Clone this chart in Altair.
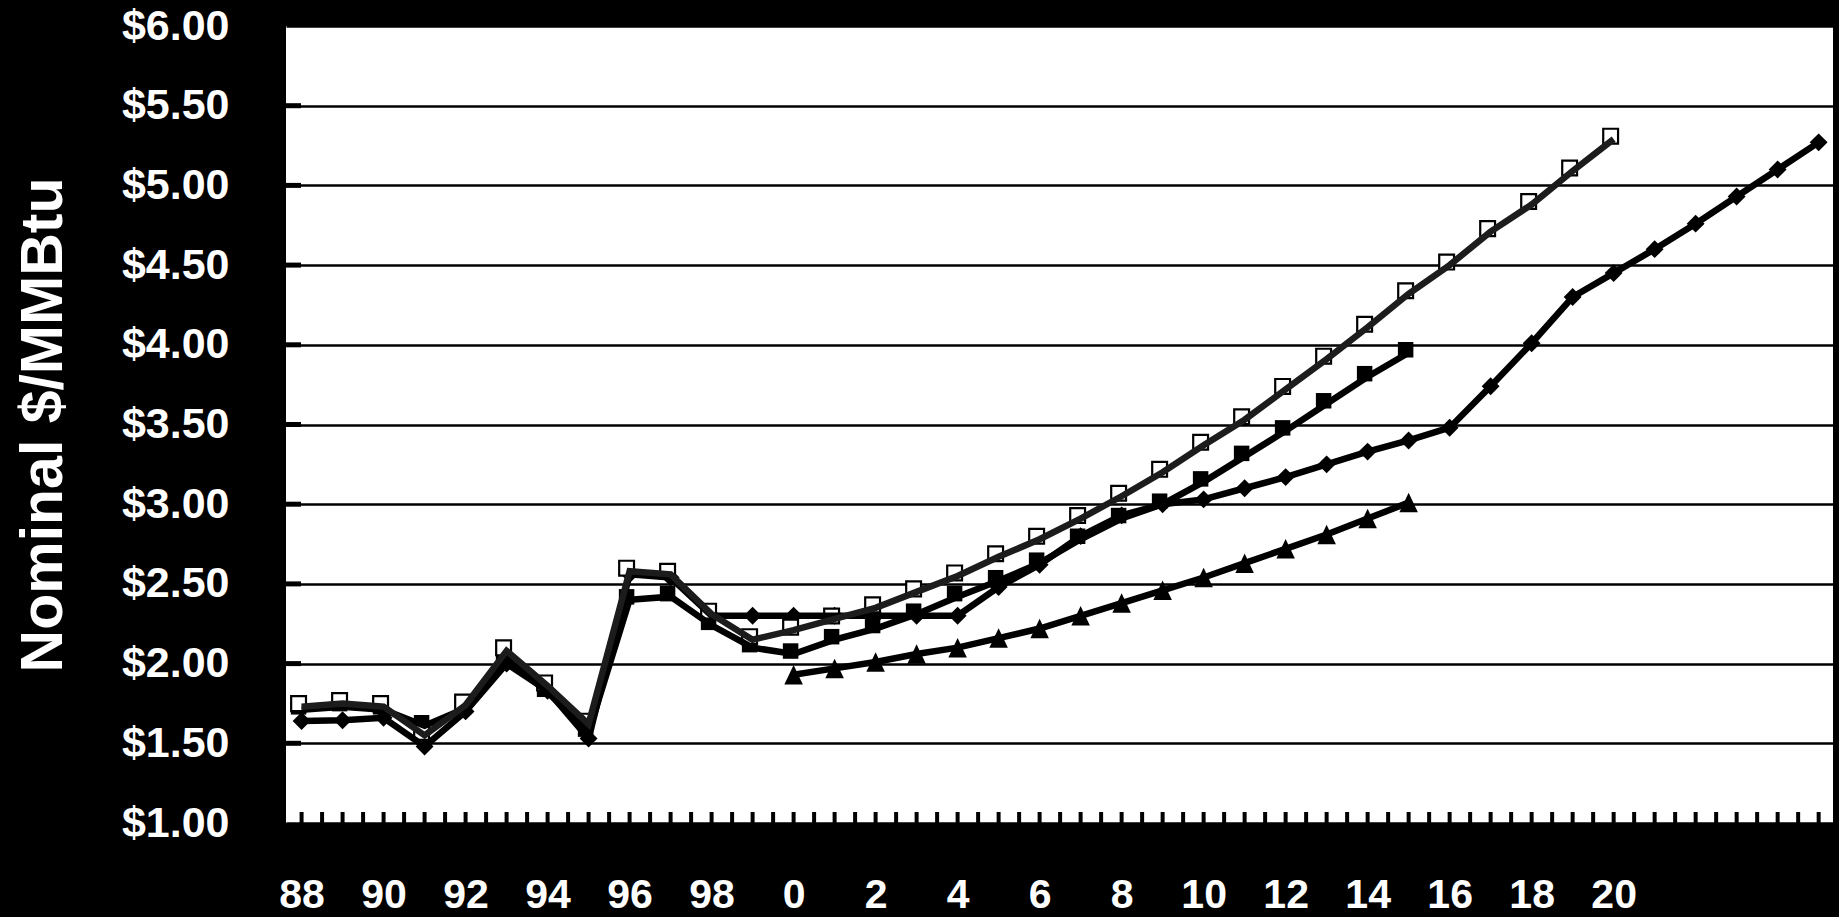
import altair as alt
import pandas as pd

# Years on the horizontal axis (1988-2025)
years = list(range(1988, 2026))

# Nominal $/MMBtu by year for each case; None where a case has no value
hollow_square_case = [1.73, 1.75, 1.73, 1.55, 1.74, 2.08, 1.86, 1.62, 2.58, 2.56, 2.31, 2.15,
                      2.21, 2.28, 2.35, 2.45, 2.55, 2.67, 2.78, 2.91, 3.05, 3.20, 3.37, 3.53,
                      3.72, 3.91, 4.11, 4.32, 4.50, 4.71, 4.88, 5.09, 5.29,
                      None, None, None, None, None]
filled_square_case = [1.71, 1.73, 1.71, 1.61, 1.72, 2.03, 1.82, 1.57, 2.40, 2.42, 2.24, 2.10,
                      2.06, 2.15, 2.22, 2.31, 2.42, 2.52, 2.63, 2.78, 2.91, 3.00, 3.14, 3.30,
                      3.46, 3.63, 3.80, 3.95,
                      None, None, None, None, None, None, None, None, None, None]
diamond_case = [1.64, 1.645, 1.66, 1.48, 1.70, 2.00, 1.83, 1.53, 2.56, 2.54, 2.30, 2.30,
                2.30, 2.30, 2.30, 2.30, 2.30, 2.48, 2.62, 2.80, 2.93, 3.00, 3.03, 3.10,
                3.17, 3.25, 3.33, 3.40, 3.48, 3.74, 4.01, 4.30, 4.45, 4.60, 4.76, 4.93,
                5.10, 5.27]
triangle_case = [None] * 12 + [1.93, 1.97, 2.01, 2.06, 2.10, 2.16, 2.22, 2.30, 2.38, 2.46,
                               2.54, 2.63, 2.72, 2.81, 2.91, 3.01] + [None] * 10

# Axis labels and tick positions
label_years = list(range(1988, 2021, 2))
price_ticks = [1.0, 1.5, 2.0, 2.5, 3.0, 3.5, 4.0, 4.5, 5.0, 5.5, 6.0]
inner_price_ticks = [1.5, 2.0, 2.5, 3.0, 3.5, 4.0, 4.5, 5.0, 5.5]
half_year_ticks = [1988 + 0.5 * i for i in range(75)]

PLOT_W, PLOT_H = 1547, 797
FONT = "Liberation Sans"
LINE_W = 6.5


def frame(values):
    df = pd.DataFrame({"year": years, "price": values})
    return df.dropna()


x_scale = alt.Scale(domain=[1987.62, 2025.35], nice=False, zero=False)
y_scale = alt.Scale(domain=[1.0, 6.0], nice=False, zero=False)

x_axis = alt.Axis(
    values=label_years,
    labelExpr="'' + (datum.value % 100)",
    grid=False, ticks=False, tickSize=0, domain=False,
    labelColor="white", labelFont=FONT, labelFontSize=41, labelFontWeight="bold",
    labelPadding=93, labelBaseline="bottom", labelFlush=False, labelOverlap=False,
    title=None,
)
y_axis = alt.Axis(
    values=price_ticks, format="$.2f",
    grid=True, gridColor="black", gridWidth=2.5, gridOpacity=1,
    ticks=False, tickSize=0, domain=False,
    labelColor="white", labelFont=FONT, labelFontSize=43, labelFontWeight="bold",
    labelPadding=57, labelOverlap=False, labelFlush=False,
    title="Nominal $/MMBtu", titleColor="white", titleFont=FONT,
    titleFontSize=59, titleFontWeight="bold", titleAngle=270,
    titleX=-225, titleY=PLOT_H / 2, titleAlign="center", titleBaseline="alphabetic",
)

X = alt.X("year:Q", scale=x_scale, axis=x_axis)
Y = alt.Y("price:Q", scale=y_scale, axis=y_axis)


def base(values):
    return alt.Chart(frame(values)).encode(x=X, y=Y)


# markers
filled_pts = base(filled_square_case).mark_square(
    color="black", size=240, opacity=1, xOffset=-3, yOffset=-3)
diamond_pts = base(diamond_case).mark_point(
    shape="diamond", filled=True, color="black", size=320, opacity=1)
triangle_pts = base(triangle_case).mark_point(
    shape="M0,-1L-0.95,1L0.95,1Z", filled=True, color="black", size=380, opacity=1)
hollow_pts = base(hollow_square_case).mark_square(
    fill="white", stroke="black", strokeWidth=2.2, size=220, opacity=1,
    fillOpacity=1, xOffset=-3, yOffset=-3)

# lines
diamond_line = base(diamond_case).mark_line(color="black", strokeWidth=LINE_W)
triangle_line = base(triangle_case).mark_line(color="black", strokeWidth=LINE_W)
filled_line = base(filled_square_case).mark_line(color="black", strokeWidth=LINE_W)
hollow_line = base(hollow_square_case).mark_line(color="#1c1c1c", strokeWidth=LINE_W)

# short inward ticks along the bottom edge and on the left end of each gridline
bottom_ticks = alt.Chart(pd.DataFrame({"year": half_year_ticks})).mark_tick(
    color="black", orient="vertical", size=11, thickness=4, opacity=1
).encode(x=X, y=alt.value(PLOT_H - 5.5))

left_ticks = alt.Chart(pd.DataFrame({"price": inner_price_ticks})).mark_tick(
    color="black", orient="horizontal", size=15, thickness=5, opacity=1
).encode(x=alt.value(7.5), y=Y)

chart = alt.layer(
    bottom_ticks, left_ticks,
    filled_pts, diamond_pts, triangle_pts, hollow_pts,
    diamond_line, triangle_line, filled_line, hollow_line,
).properties(
    width=PLOT_W,
    height=PLOT_H,
    autosize=alt.AutoSizeParams(type="none"),
    padding={"left": 286, "top": 26, "right": 6, "bottom": 94},
    background="black",
).configure_view(
    fill="white", strokeWidth=0
)

chart.save("out.html", embed_options={"renderer": "svg", "actions": False})
